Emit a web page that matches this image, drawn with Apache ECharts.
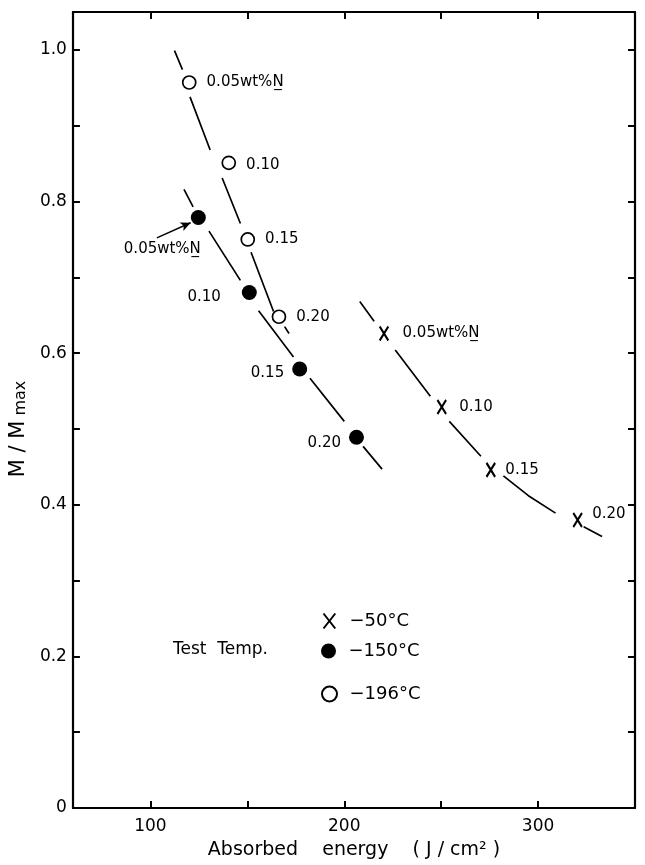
<!DOCTYPE html>
<html>
<head>
<meta charset="utf-8">
<script src="https://cdn.jsdelivr.net/npm/echarts@6/dist/echarts.min.js"></script>
<style>
  html, body { margin: 0; padding: 0; background: #fff; }
  #chart { width: 645px; height: 865px; }
</style>
</head>
<body>
<div id="chart"></div>
<script>
// M/Mmax against absorbed energy, three test temperatures, four nitrogen levels

const tempNames = ['−50°C', '−150°C', '−196°C'];
const nitrogenLabels = ['0.05wt%N\u0332', '0.10', '0.15', '0.20'];

// measured points: [absorbed energy (J/cm2), M/Mmax]
const points50 = [[220.5, 0.626], [250.3, 0.529], [275.6, 0.446], [320.4, 0.380]];
const points150 = [[124.7, 0.779], [151.0, 0.680], [177.0, 0.579], [206.3, 0.489]];
const points196 = [[120.0, 0.957], [140.4, 0.851], [150.2, 0.750], [166.3, 0.648]];

// trend curves, as the stroke pieces left between markers and labels
const curve50 = [
  [[208.0, 0.668], [215.4, 0.642]],
  [[226.3, 0.604], [244.4, 0.543]],
  [[254.2, 0.510], [270.5, 0.464]],
  [[282.1, 0.438], [295.0, 0.412], [309.0, 0.389]],
  [[323.5, 0.371], [333.0, 0.358]]
];
const curve150 = [
  [[117.3, 0.816], [122.0, 0.793]],
  [[130.2, 0.761], [146.4, 0.696]],
  [[155.8, 0.656], [173.8, 0.595]],
  [[182.3, 0.567], [200.0, 0.510]],
  [[209.7, 0.477], [219.5, 0.447]]
];
const curve196 = [
  [[112.4, 0.999], [116.5, 0.974]],
  [[120.4, 0.938], [130.8, 0.868]],
  [[137.0, 0.831], [146.4, 0.771]],
  [[151.9, 0.733], [163.5, 0.655]],
  [[169.2, 0.635], [171.5, 0.626]]
];

// pointer from the 0.05 wt% label to the −150°C point
const arrowTail = [103.3, 0.752];
const arrowHead = [120.7, 0.772];

// axis ticks and labels
const xTicks = [100, 150, 200, 250, 300];
const xLabels = [100, 200, 300];
const yTicks = [0, 0.1, 0.2, 0.3, 0.4, 0.5, 0.6, 0.7, 0.8, 0.9, 1.0];
const yLabels = [0, 0.2, 0.4, 0.6, 0.8, 1.0];

// ---------------------------------------------------------------------------
const FONT = 'DejaVu Sans';
const INK = '#000';

// join stroke pieces into one line series with breaks between them
function joinPieces(pieces) {
  const out = [];
  pieces.forEach((p, i) => {
    if (i > 0) out.push(['-', '-']);
    p.forEach(pt => out.push(pt));
  });
  return out;
}

// label placement for each group of points
const labelLayout50 = [
  { position: 'right', distance: 12 },
  { position: 'right', distance: 11 },
  { position: 'right', distance: 8 },
  { position: 'right', distance: 8, offset: [0, -6] }
];
const labelLayout150 = [
  { position: 'inside', offset: [-36, 32] },
  { position: 'left', distance: 21, offset: [0, 5] },
  { position: 'left', distance: 8, offset: [0, 4] },
  { position: 'left', distance: 8, offset: [0, 6] }
];
const labelLayout196 = [
  { position: 'right', distance: 10 },
  { position: 'right', distance: 10, offset: [0, 2] },
  { position: 'right', distance: 10 },
  { position: 'right', distance: 10 }
];

function pointData(points, layout) {
  return points.map((p, i) => ({
    value: p,
    label: Object.assign({
      show: true,
      formatter: nitrogenLabels[i],
      color: INK,
      opacity: 1,
      fontFamily: FONT,
      fontSize: 15
    }, layout[i])
  }));
}

const crossPath = 'path://M0,0L11,14M11,0L0,14';

const curveStyle = { color: INK, width: 1.7, opacity: 1 };

function curveSeries(pieces) {
  return {
    type: 'line',
    data: joinPieces(pieces),
    showSymbol: false,
    symbol: 'none',
    connectNulls: false,
    lineStyle: curveStyle,
    silent: true,
    z: 1
  };
}

const frameAxisLine = { show: true, onZero: false, lineStyle: { color: INK, width: 2.2 } };

function legendBlock(name, top) {
  return {
    data: [name],
    orient: 'vertical',
    left: 316,
    top: top,
    itemWidth: 18,
    itemHeight: 15,
    selectedMode: false,
    textStyle: { color: INK, fontFamily: FONT, fontSize: 18, padding: [0, 0, 0, 6] }
  };
}

const option = {
  animation: false,
  backgroundColor: '#fff',
  grid: { left: 70, right: 10, top: 12, bottom: 57, containLabel: false },
  legend: [
    legendBlock(tempNames[0], 606),
    legendBlock(tempNames[1], 637),
    legendBlock(tempNames[2], 680)
  ],
  graphic: [{
    type: 'text',
    left: 173,
    top: 641,
    style: { text: 'Test  Temp.', fill: INK, font: '17px "DejaVu Sans"' }
  }],
  xAxis: [{
    type: 'value',
    min: 60,
    max: 350,
    position: 'bottom',
    name: 'Absorbed    energy    ( J / cm² )',
    nameLocation: 'middle',
    nameGap: 33,
    nameTextStyle: { color: INK, fontFamily: FONT, fontSize: 19 },
    axisLine: frameAxisLine,
    axisTick: { show: true, inside: true, length: 7, customValues: xTicks, lineStyle: { color: INK, width: 2 } },
    axisLabel: { show: true, customValues: xLabels, color: INK, fontFamily: FONT, fontSize: 17, margin: 10 },
    splitLine: { show: false }
  }, {
    type: 'value',
    min: 60,
    max: 350,
    position: 'top',
    axisLine: frameAxisLine,
    axisTick: { show: true, inside: true, length: 7, customValues: xTicks, lineStyle: { color: INK, width: 2 } },
    axisLabel: { show: false },
    splitLine: { show: false }
  }],
  yAxis: [{
    type: 'value',
    min: 0,
    max: 1.05,
    position: 'left',
    name: '{m|M / M}{s| max}',
    nameLocation: 'middle',
    nameRotate: 90,
    nameGap: 34,
    nameTextStyle: {
      color: INK,
      fontFamily: FONT,
      padding: [0, 38, 0, 0],
      rich: {
        m: { fontFamily: FONT, fontSize: 21, color: INK, verticalAlign: 'bottom' },
        s: { fontFamily: FONT, fontSize: 16, color: INK, verticalAlign: 'bottom' }
      }
    },
    axisLine: frameAxisLine,
    axisTick: { show: true, inside: true, length: 7, customValues: yTicks, lineStyle: { color: INK, width: 2 } },
    axisLabel: {
      show: true,
      customValues: yLabels,
      color: INK,
      fontFamily: FONT,
      fontSize: 17,
      margin: 6,
      formatter: v => (v === 0 ? '0' : v.toFixed(1))
    },
    splitLine: { show: false }
  }, {
    type: 'value',
    min: 0,
    max: 1.05,
    position: 'right',
    axisLine: frameAxisLine,
    axisTick: { show: true, inside: true, length: 7, customValues: yTicks, lineStyle: { color: INK, width: 2 } },
    axisLabel: { show: false },
    splitLine: { show: false }
  }],
  series: [
    curveSeries(curve50),
    curveSeries(curve150),
    curveSeries(curve196),
    {
      name: tempNames[0],
      type: 'scatter',
      symbol: crossPath,
      symbolSize: [11, 14],
      symbolKeepAspect: true,
      itemStyle: { color: 'none', borderColor: INK, borderWidth: 2.2, opacity: 1 },
      data: pointData(points50, labelLayout50),
      z: 3
    },
    {
      name: tempNames[1],
      type: 'scatter',
      symbol: 'circle',
      symbolSize: 15,
      itemStyle: { color: INK, borderColor: INK, borderWidth: 0, opacity: 1 },
      data: pointData(points150, labelLayout150),
      markLine: {
        silent: true,
        symbol: ['none', 'arrow'],
        symbolSize: [7, 10],
        label: { show: false },
        lineStyle: { color: INK, width: 1.4, type: 'solid', opacity: 1 },
        data: [[{ coord: arrowTail }, { coord: arrowHead }]]
      },
      z: 3
    },
    {
      name: tempNames[2],
      type: 'scatter',
      symbol: 'circle',
      symbolSize: 13,
      itemStyle: { color: '#fff', borderColor: INK, borderWidth: 1.7, opacity: 1 },
      data: pointData(points196, labelLayout196),
      z: 3
    }
  ]
};

const chart = echarts.init(document.getElementById('chart'), null, { renderer: 'canvas' });
chart.setOption(option);
</script>
</body>
</html>
